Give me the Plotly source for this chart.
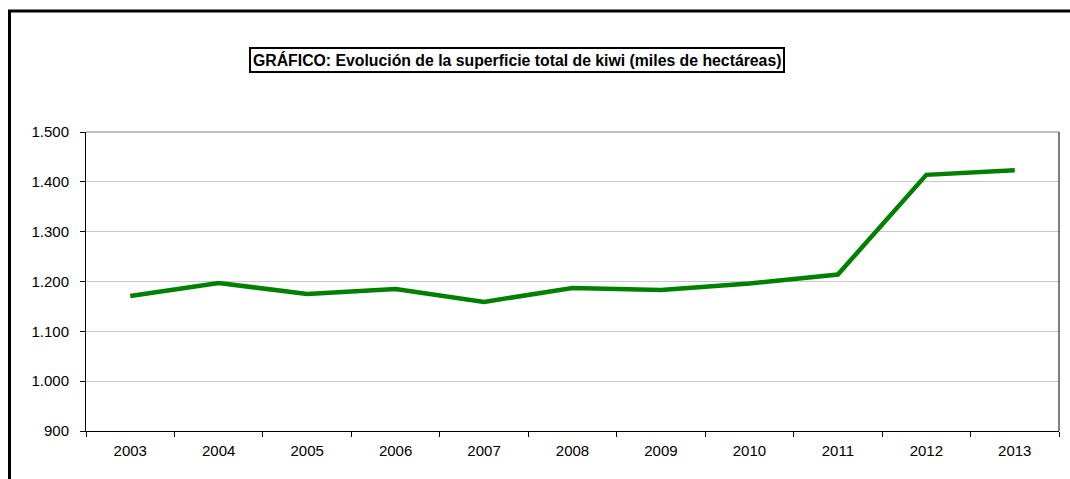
import plotly.graph_objects as go

years = ["2003", "2004", "2005", "2006", "2007", "2008", "2009", "2010", "2011", "2012", "2013"]
superficie = [1171, 1197, 1175, 1185, 1159, 1187, 1183, 1196, 1214, 1414, 1423]
title_text = "GRÁFICO: Evolución de la superficie total de kiwi (miles de hectáreas)"

W, H = 1070, 479
L, R, T, B = 86, 11, 132, 48
pw, ph = W - L - R, H - T - B

def px_x(p):
    return (p - L) / pw

def px_y(p):
    return (H - B - p) / ph

FONT = "Liberation Sans, Arial, sans-serif"

fig = go.Figure()
fig.add_trace(go.Scatter(
    x=years, y=superficie, mode="lines",
    line=dict(color="#008000", width=4.5),
    hoverinfo="x+y",
))

fig.update_layout(
    width=W, height=H,
    margin=dict(l=L, r=R, t=T, b=B, pad=0, autoexpand=False),
    paper_bgcolor="white", plot_bgcolor="white",
    separators=",.",
    showlegend=False,
    font=dict(family=FONT, size=15, color="black"),
    xaxis=dict(
        type="category", range=[-0.5, len(years) - 0.5],
        tickson="boundaries", ticks="outside", ticklen=5,
        tickcolor="black", showline=True, linecolor="black", linewidth=1,
        showgrid=False, tickfont=dict(size=15, family=FONT), automargin=False,
        ticklabelstandoff=6,
    ),
    yaxis=dict(
        range=[900, 1500], dtick=100, tick0=900, tickformat=",.0f",
        ticks="outside", ticklen=5, tickcolor="black",
        showline=True, linecolor="black", linewidth=1,
        showgrid=True, gridcolor="#c8c8c8", gridwidth=1,
        zeroline=False, tickfont=dict(size=15, family=FONT), automargin=False,
        ticklabelstandoff=8,
    ),
    shapes=[
        dict(type="rect", xref="paper", yref="paper",
             x0=px_x(9.5), x1=px_x(1090), y0=px_y(11), y1=px_y(520),
             line=dict(color="black", width=3), fillcolor="rgba(0,0,0,0)", layer="above"),
        dict(type="line", xref="paper", yref="paper",
             x0=0, x1=1, y0=1, y1=1, line=dict(color="#808080", width=1)),
        dict(type="line", xref="paper", yref="paper",
             x0=1, x1=1, y0=0, y1=1, line=dict(color="black", width=1)),
    ],
    annotations=[
        dict(text="<b>" + title_text + "</b>", xref="paper", yref="paper",
             x=px_x(516.5), y=px_y(60), xanchor="center", yanchor="middle",
             showarrow=False, font=dict(size=15.8, color="black", family=FONT),
             bordercolor="black", borderwidth=2, borderpad=2, bgcolor="white"),
    ],
)

fig.write_html("out.html", config={"displayModeBar": False},
               post_script="document.body.style.margin='0';document.body.style.padding='0';")
